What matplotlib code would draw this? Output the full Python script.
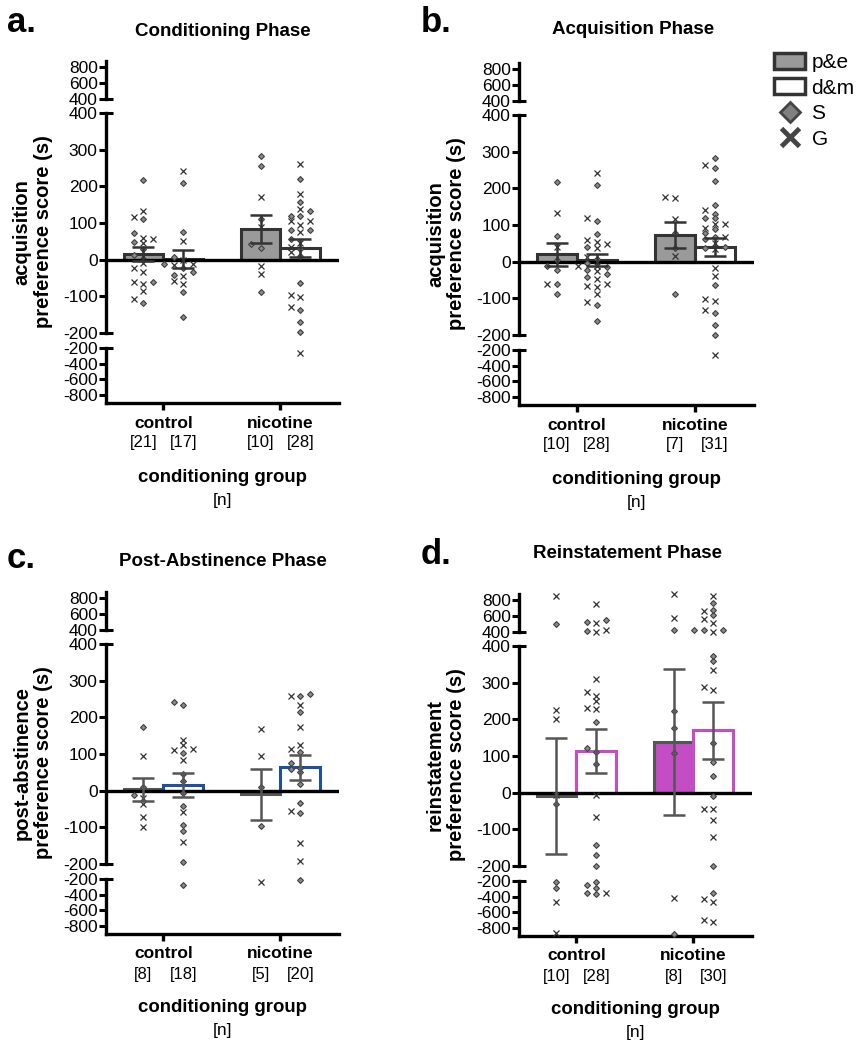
import numpy as np
import matplotlib.pyplot as plt
from matplotlib.patches import Patch
from matplotlib.lines import Line2D

plt.rcParams['font.family'] = ['Liberation Sans', 'DejaVu Sans']
plt.rcParams['axes.unicode_minus'] = False

W, H = 863, 1050

# bar order: control p&e, control d&m, nicotine p&e, nicotine d&m
groups = ['control', 'nicotine']

# --- a. Conditioning Phase ---
a_mean = [15, 2, 84, 31]
a_sem = [20, 24, 39, 25]
a_n = [21, 17, 10, 28]
a_pe_ctrl_S = [216, 110, 72, 48, 28, 13, -61, -119]
a_pe_ctrl_G = [117, 133, 60, 55, 45, 10, -10, -24, -33, -67, -61, -85, -108]
a_dm_ctrl_S = [208, 76, 8, -13, -22, -33, -42, -87, -157]
a_dm_ctrl_G = [243, 51, 0, -14, -13, -44, -58, -66]
a_pe_nic_S = [283, 255, 112, 42, 31, -87]
a_pe_nic_G = [171, 88, -16, -39]
a_dm_nic_S = [219, 156, 132, 120, 120, 80, 80, 55, 30, 10, -65, -138, -169, -197]
a_dm_nic_G = [262, 178, 138, 105, 105, 95, 75, 45, 35, 20, -97, -103, -128, -260]

# --- b. Acquisition Phase ---
b_mean = [20, 5, 72, 40]
b_sem = [31, 17, 35, 25]
b_n = [10, 28, 7, 31]
b_pe_ctrl_S = [218, 70, 5, -12, -23, -62, -87]
b_pe_ctrl_G = [134, 40, -60]
b_dm_ctrl_S = [208, 111, 76, 41, 6, -5, -15, -23, -35, -41, -119, -161]
b_dm_ctrl_G = [243, 118, 59, 54, 49, 38, 14, -12, -12, -25, -46, -68, -65, -60, -87, -110]
b_pe_nic_S = [79, 38, -87]
b_pe_nic_G = [173, 177, 115, 15]
b_dm_nic_S = [283, 255, 220, 155, 131, 120, 118, 88, 79, 68, 61, 40, 38, -64, -139, -172, -199]
b_dm_nic_G = [264, 140, 104, 104, 92, 68, 52, 34, -16, -39, -101, -107, -133, -264]

# --- c. Post-Abstinence Phase ---
c_mean = [4, 15, -10, 64]
c_sem = [31, 33, 70, 34]
c_n = [8, 18, 5, 20]
c_pe_ctrl_S = [175, 9, -12]
c_pe_ctrl_G = [95, -19, -37, -71, -100]
c_dm_ctrl_S = [241, 234, 104, 45, 27, -7, -41, -94, -110, -195, -271]
c_dm_ctrl_G = [138, 125, 111, 115, 85, -57, -139]
c_pe_nic_S = [11, -96]
c_pe_nic_G = [167, 95, -234]
c_dm_nic_S = [263, 259, 214, 105, 75, 63, 58, 50, 17, -33, -62, -212]
c_dm_nic_G = [259, 234, 173, 125, 115, -55, -144, -193]

# --- d. Reinstatement Phase ---
d_mean = [-8, 115, 137, 170]
d_sem = [158, 60, 199, 77]
d_n = [10, 28, 8, 30]
d_pe_ctrl_S = [500, -30, -210, -290]
d_pe_ctrl_G = [857, 226, 200, -5, -474, -867]
d_dm_ctrl_S = [522, 552, 409, 192, 123, 111, 77, -144, -170, -199, -370, -255, -209, -285, -349]
d_dm_ctrl_G = [757, 517, 405, 430, 309, 275, 265, 249, 232, 229, -7, -66, -349]
d_pe_nic_S = [422, 223, 177, 108, -880]
d_pe_nic_G = [878, 574, -413]
d_dm_nic_S = [761, 617, 674, 422, 422, 430, 359, 373, 135, 84, 46, -9, -199, -349]
d_dm_nic_G = [857, 670, 509, 561, 405, 334, 288, 281, -45, -44, -75, -121, -468, -426, -724, -699]

fig = plt.figure(figsize=(W / 100, H / 100), dpi=100)


def px_axes(left, top, width, height):
    return fig.add_axes([left / W, 1 - (top + height) / H, width / W, height / H])


def pick_ax(v, axs):
    if v > 400:
        return axs[0]
    if v < -200:
        return axs[2]
    return axs[1]


def swarm(vals, axs, step=0.081, min_dy=4.5):
    # simple beeswarm in pixel space, returns x offsets
    order = np.argsort(vals)
    placed = []
    offs = np.zeros(len(vals))
    for i in order:
        v = vals[i]
        ypx = pick_ax(v, axs).transData.transform((0, v))[1]
        for c in [0, -1, 1, -2, 2, -3, 3]:
            if all(abs(ypx - yp) >= min_dy for cc, yp in placed if cc == c):
                break
        placed.append((c, ypx))
        offs[i] = c * step
    return offs


def panel(left, top, width, letter, title, title_xy, letter_xy, ylabel, ylabel_x,
          means, sems, ns, pts, pe_face, pe_edge, dm_edge, err_c):
    ax_top = px_axes(left, top, width, 38)
    ax_mid = px_axes(left, top + 52, width, 220)
    ax_bot = px_axes(left, top + 287, width, 55)
    axs = [ax_top, ax_mid, ax_bot]
    ax_top.set_ylim(400, 880)
    ax_top.set_yticks([400, 600, 800])
    ax_mid.set_ylim(-200, 400)
    ax_mid.set_yticks([-200, -100, 0, 100, 200, 300, 400])
    ax_bot.set_ylim(-905, -200)
    ax_bot.set_yticks([-800, -600, -400, -200])
    for ax in axs:
        ax.set_xlim(-0.49, 1.50)
        for s in ['top', 'right', 'bottom']:
            ax.spines[s].set_visible(False)
        ax.spines['left'].set_linewidth(2.4)
        ax.tick_params(axis='y', length=5, width=2.2, labelsize=12.5, pad=1)
        ax.set_xticks([])
        ax.patch.set_visible(False)
    ax_bot.spines['bottom'].set_visible(True)
    ax_bot.spines['bottom'].set_linewidth(2.4)
    ax_bot.set_xticks([0, 1])
    ax_bot.set_xticklabels([])
    ax_bot.tick_params(axis='x', length=5, width=2.4)

    # break marks crossing the spine
    for ax, yv in [(ax_top, 400), (ax_mid, 400), (ax_mid, -200), (ax_bot, -200)]:
        ax.plot([0, 7 / width], [yv, yv], transform=ax.get_yaxis_transform(),
                color='black', lw=2.2, clip_on=False, solid_capstyle='butt')

    w = 0.34
    xs = [-0.17, 0.17, 0.83, 1.17]
    faces = [pe_face, 'white', pe_face, 'white']
    edges = [pe_edge, dm_edge, pe_edge, dm_edge]
    ax_mid.bar(xs, means, width=w, color=faces, edgecolor=edges, linewidth=2.2, zorder=2)
    ax_mid.axhline(0, color='black', lw=2.4, zorder=2.5)

    for x, (sv, gv) in zip(xs, pts):
        vals = np.array(sv + gv, dtype=float)
        kind = np.array(['S'] * len(sv) + ['G'] * len(gv))
        offs = swarm(vals, axs)
        for v, k, o in zip(vals, kind, offs):
            ax = pick_ax(v, axs)
            if k == 'S':
                ax.plot(x + o, v, marker='D', ms=3.0, mfc='#8a8a8a', mec='#404040', mew=0.8,
                        ls='none', zorder=3, clip_on=False)
            else:
                ax.plot(x + o, v, marker='x', ms=4.0, color='#333333', mew=0.9,
                        ls='none', zorder=3, clip_on=False)

    ax_mid.errorbar(xs, means, yerr=sems, fmt='none', ecolor=err_c, elinewidth=1.8,
                    capsize=8, capthick=1.8, zorder=4)

    pt = 0.72
    for gx, g in zip([0, 1], groups):
        ax_bot.annotate(g, xy=(gx, 0), xycoords=('data', 'axes fraction'),
                        xytext=(0, -20 * pt), textcoords='offset points',
                        ha='center', va='center', fontsize=12.5, fontweight='bold')
    for x, n in zip(xs, ns):
        ax_bot.annotate(f'[{n}]', xy=(x, 0), xycoords=('data', 'axes fraction'),
                        xytext=(0, -40 * pt), textcoords='offset points',
                        ha='center', va='center', fontsize=12)
    ax_bot.annotate('conditioning group', xy=(0.5, 0), xycoords='axes fraction',
                    xytext=(0, -74 * pt), textcoords='offset points',
                    ha='center', va='center', fontsize=13.4, fontweight='bold')
    ax_bot.annotate('[n]', xy=(0.5, 0), xycoords='axes fraction',
                    xytext=(0, -97 * pt), textcoords='offset points',
                    ha='center', va='center', fontsize=12.5)

    fig.text(title_xy[0] / W, 1 - title_xy[1] / H, title, ha='center', va='center',
             fontsize=13.5, fontweight='bold')
    fig.text(letter_xy[0] / W, 1 - letter_xy[1] / H, letter, ha='left', va='center',
             fontsize=25, fontweight='bold')
    fig.text(ylabel_x / W, 1 - (top + 171) / H, ylabel, rotation=90, ha='center', va='center',
             fontsize=14.5, fontweight='bold', multialignment='center', linespacing=1.15)


panel(106, 61, 233, 'a.', 'Conditioning Phase', (223, 32), (7, 23),
      'acquisition\npreference score (s)', 33, a_mean, a_sem, a_n,
      [(a_pe_ctrl_S, a_pe_ctrl_G), (a_dm_ctrl_S, a_dm_ctrl_G),
       (a_pe_nic_S, a_pe_nic_G), (a_dm_nic_S, a_dm_nic_G)],
      '#9a9a9a', '#333333', '#333333', '#333333')

panel(519, 63, 235, 'b.', 'Acquisition Phase', (633, 29), (421, 23),
      'acquisition\npreference score (s)', 446, b_mean, b_sem, b_n,
      [(b_pe_ctrl_S, b_pe_ctrl_G), (b_dm_ctrl_S, b_dm_ctrl_G),
       (b_pe_nic_S, b_pe_nic_G), (b_dm_nic_S, b_dm_nic_G)],
      '#9a9a9a', '#333333', '#333333', '#333333')

panel(106, 592, 233, 'c.', 'Post-Abstinence Phase', (223, 562), (7, 559),
      'post-abstinence\npreference score (s)', 33, c_mean, c_sem, c_n,
      [(c_pe_ctrl_S, c_pe_ctrl_G), (c_dm_ctrl_S, c_dm_ctrl_G),
       (c_pe_nic_S, c_pe_nic_G), (c_dm_nic_S, c_dm_nic_G)],
      '#1f4fa3', '#555555', '#1f4fa3', '#555555')

panel(519, 594, 233, 'd.', 'Reinstatement Phase', (627, 554), (421, 555),
      'reinstatement\npreference score (s)', 446, d_mean, d_sem, d_n,
      [(d_pe_ctrl_S, d_pe_ctrl_G), (d_dm_ctrl_S, d_dm_ctrl_G),
       (d_pe_nic_S, d_pe_nic_G), (d_dm_nic_S, d_dm_nic_G)],
      '#c44cc4', '#555555', '#c44cc4', '#555555')

handles = [
    Patch(facecolor='#9a9a9a', edgecolor='#333333', linewidth=2.5),
    Patch(facecolor='white', edgecolor='#333333', linewidth=2.5),
    Line2D([], [], marker='D', ls='none', ms=10, mfc='#808080', mec='#444444', mew=2),
    Line2D([], [], marker='x', ls='none', ms=13, color='#444444', mew=3.5),
]
fig.legend(handles, ['p&e', 'd&m', 'S', 'G'], loc='upper left',
           bbox_to_anchor=(774 / W, 1 - 53 / H), frameon=False, fontsize=15,
           handlelength=1.5, handleheight=0.8, labelspacing=0.3, handletextpad=0.3,
           borderpad=0, borderaxespad=0)

fig.savefig('out.png', dpi=100)
